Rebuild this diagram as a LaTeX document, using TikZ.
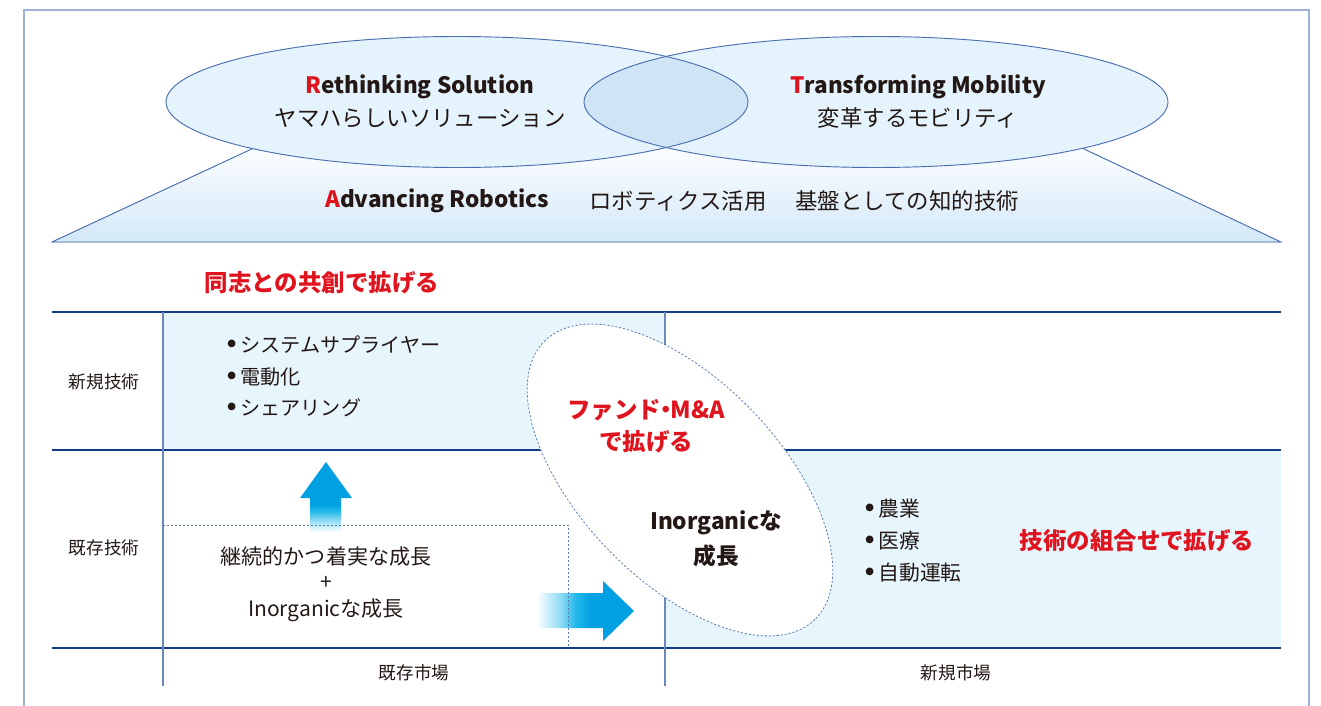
\documentclass[tikz,border=0pt]{standalone}
\usepackage{fontspec}
\setmainfont{Noto Sans CJK JP}
\newfontfamily\bulfont{DejaVu Sans}
\definecolor{txt}{HTML}{231815}
\definecolor{accred}{HTML}{E0141E}
\definecolor{framec}{HTML}{9DB2D6}
\definecolor{ellline}{HTML}{4A6FB0}
\definecolor{ellfill}{HTML}{E5F3FC}
\definecolor{lensfill}{HTML}{CFE5F6}
\definecolor{trapblue}{HTML}{D3E8F8}
\definecolor{cellblue}{HTML}{E7F5FD}
\definecolor{gridh}{HTML}{123C86}
\definecolor{gridv}{HTML}{6C88BC}
\definecolor{dotc}{HTML}{5B7DB5}
\definecolor{arrowblue}{HTML}{00A0E3}
\definecolor{arrowcyan}{HTML}{22B8EA}
\newcommand{\bulletmark}{\raisebox{0.3em}{\bulfont\fontsize{7.5}{8}\selectfont ●}\hspace{0.22em}}
\pgfdeclareverticalshading{upfade}{100bp}{color(0bp)=(white); color(25bp)=(white); color(34bp)=(arrowcyan!55!white); color(40bp)=(arrowcyan); color(45bp)=(arrowblue); color(100bp)=(arrowblue)}
\pgfdeclarehorizontalshading{rightfade}{100bp}{color(0bp)=(white); color(25bp)=(white); color(38bp)=(arrowcyan!55!white); color(45bp)=(arrowcyan); color(53bp)=(arrowblue); color(100bp)=(arrowblue)}
\tikzset{
  jbig/.style={inner sep=0pt, text=txt, font=\fontsize{16.8}{20}\selectfont},
  ebig/.style={inner sep=0pt, text=txt, font=\bfseries\fontsize{16.9}{20}\selectfont},
  redhead/.style={inner sep=0pt, text=accred, font=\bfseries\fontsize{17.6}{21}\selectfont},
  darkhead/.style={inner sep=0pt, text=txt, font=\bfseries\fontsize{17}{21}\selectfont},
  bul/.style={inner sep=0pt, anchor=west, text=txt, font=\fontsize{15.1}{18}\selectfont},
  bulr/.style={inner sep=0pt, anchor=west, text=txt, font=\fontsize{15.6}{18}\selectfont},
  axlab/.style={inner sep=0pt, text=txt, font=\fontsize{13.2}{16}\selectfont},
  midtxt/.style={inner sep=0pt, text=txt, font=\fontsize{15.8}{19}\selectfont},
  hline/.style={draw=gridh, line width=0.9pt},
  vline/.style={draw=gridv, line width=0.9pt},
  dotline/.style={draw=dotc, line width=0.6pt, dash pattern=on 1.6pt off 1.4pt},
}
\begin{document}
\begin{tikzpicture}[x=0.75pt,y=-0.75pt]
\useasboundingbox (0,0) rectangle (1321,706);
% outer frame
\draw[framec, line width=1.1pt] (24,720) -- (24,10) -- (1309,10) -- (1309,720);
% trapezoid
\filldraw[draw=ellline, line width=0.7pt, top color=white, bottom color=trapblue] (52,242) -- (271,140) -- (1065,140) -- (1281,242) -- cycle;
% ellipses
\fill[ellfill] (457,102) ellipse [x radius=291, y radius=65.5];
\fill[ellfill] (876,102) ellipse [x radius=292, y radius=65.5];
\begin{scope}
  \clip (457,102) ellipse [x radius=291, y radius=65.5];
  \fill[lensfill] (876,102) ellipse [x radius=292, y radius=65.5];
\end{scope}
\draw[ellline, line width=0.7pt] (457,102) ellipse [x radius=291, y radius=65.5];
\draw[ellline, line width=0.7pt] (876,102) ellipse [x radius=292, y radius=65.5];
% top texts
\node[ebig] (rs) at (420,87) {{\color{accred}R}ethinking Solution};
\node[jbig] (rsj) at (420,118) {ヤマハらしいソリューション};
\node[ebig] (tm) at (918,87) {{\color{accred}T}ransforming Mobility};
\node[jbig] (tmj) at (918,118) {変革するモビリティ};
\node[ebig, anchor=west] (ar) at (325,201) {{\color{accred}A}dvancing Robotics};
\node[jbig, anchor=west] (arj) at (589,201) {ロボティクス活用\hspace{1.3em}基盤としての知的技術};
% red heading
\node[redhead] (kyoso) at (322,283) {同志との共創で拡げる};
% grid cells
\fill[cellblue] (163,312) rectangle (665,450);
\fill[cellblue] (665,450) rectangle (1281,648);
\draw[hline] (52,312) -- (1281,312);
\draw[hline] (52,450) -- (1281,450);
\draw[hline] (52,648) -- (1281,648);
\draw[vline] (163,312) -- (163,686);
\draw[vline] (665,312) -- (665,686);
% arrows
\path[shading=upfade] (326,462) -- (352,498) -- (341,498) -- (341,532) -- (310,532) -- (310,498) -- (300,498) -- cycle;
\path[shading=rightfade] (634,611) -- (603,641) -- (603,628) -- (537,628) -- (537,593) -- (603,593) -- (603,581) -- cycle;
% dotted box
\draw[dotline] (163,525) -- (568,525) -- (568,648);
% tilted ellipse
\filldraw[fill=white, dotline, rotate around={-46:(680,480)}] (680,480) ellipse [x radius=194, y radius=100];
% axis labels
\node[axlab] (nt) at (104,382) {新規技術};
\node[axlab] (et) at (104,548) {既存技術};
\node[axlab] (em) at (414,673) {既存市場};
\node[axlab] (nm) at (956,673) {新規市場};
% bullets top-left
\node[bul] (b1) at (227,345) {\bulletmark システムサプライヤー};
\node[bul] (b2) at (227,377) {\bulletmark 電動化};
\node[bul] (b3) at (227,408) {\bulletmark シェアリング};
% existing tech center
\node[midtxt] (m1) at (326,557) {継続的かつ着実な成長};
\node[midtxt] (m2) at (326,583) {+};
\node[midtxt] (m3) at (326,610) {Inorganicな成長};
% ellipse texts
\node[redhead] (f1) at (646,410) {ファンド\hspace{-0.3em}・\hspace{-0.3em}M\&A};
\node[redhead] (f2) at (646,442) {で拡げる};
\node[darkhead] (g1) at (716,523) {Inorganicな};
\node[darkhead] (g2) at (716,556) {成長};
% bullets bottom-right
\node[bulr] (c1) at (865,509) {\bulletmark 農業};
\node[bulr] (c2) at (865,541) {\bulletmark 医療};
\node[bulr] (c3) at (865,573) {\bulletmark 自動運転};
\node[redhead] (kumi) at (1137,541) {技術の組合せで拡げる};
\end{tikzpicture}
\end{document}
